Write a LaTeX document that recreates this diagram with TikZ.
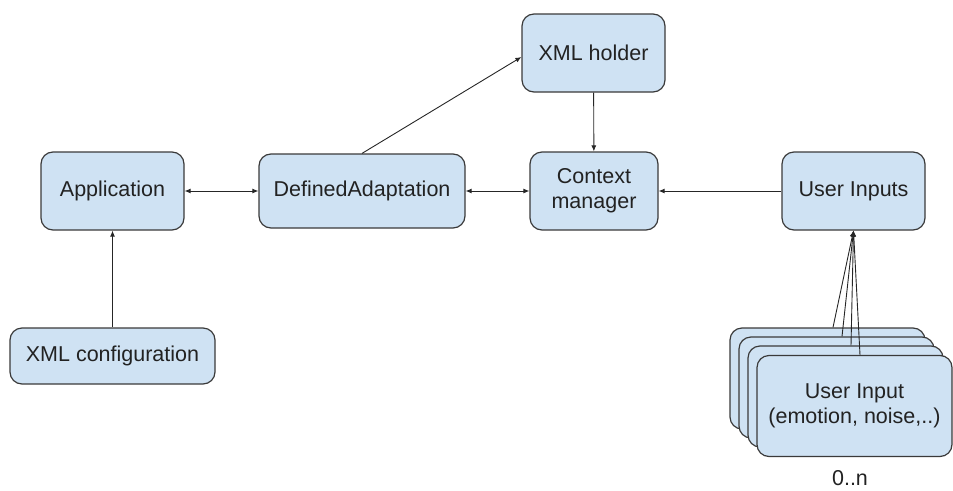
\documentclass[tikz,border=0pt]{standalone}
\usepackage{fontspec}
\setmainfont{Liberation Sans}
\usetikzlibrary{arrows.meta,calc}
\definecolor{boxfill}{HTML}{CFE2F3}
\definecolor{boxline}{HTML}{3A3A3A}
\definecolor{ink}{HTML}{222222}
\tikzset{
  blockbox/.style={draw=boxline, fill=boxfill, line width=1.2pt, rounded corners=12pt,
    align=center, text=ink, font=\fontsize{21.5}{25}\selectfont, inner sep=0pt},
  link/.style={draw=black!85, line width=0.9pt, -{Latex[length=6pt,width=5pt]}},
  biLink/.style={draw=black!85, line width=0.9pt, {Latex[length=6pt,width=5pt]}-{Latex[length=6pt,width=5pt]}},
}
\begin{document}
\begin{tikzpicture}[x=1pt,y=-1pt]
  \useasboundingbox (0,0) rectangle (953,490);

  % main blocks
  \node[blockbox, minimum width=143pt, minimum height=78pt] (app) at (112.5,191) {Application};
  \node[blockbox, minimum width=206pt, minimum height=74pt] (def) at (362,191) {DefinedAdaptation};
  \node[blockbox, minimum width=143pt, minimum height=78pt] (xmlh) at (593.5,53) {XML holder};
  \node[blockbox, minimum width=128pt, minimum height=78pt] (ctx) at (594,191) {Context\\manager};
  \node[blockbox, minimum width=143pt, minimum height=78pt] (ui) at (853.5,191) {User Inputs};
  \node[blockbox, minimum width=205pt, minimum height=56pt] (cfg) at (112.5,356) {XML configuration};

  % stack of user input sources, back to front
  \node[blockbox, minimum width=195pt, minimum height=101pt] (s1) at (827.5,378.5) {};
  \node[blockbox, minimum width=195pt, minimum height=101pt] (s2) at (836.5,387.5) {};
  \node[blockbox, minimum width=195pt, minimum height=101pt] (s3) at (845.5,396.5) {};
  \node[blockbox, minimum width=195pt, minimum height=101pt] (s4) at (854.5,406) {User Input\\(emotion, noise,..)};
  \node[text=ink, font=\fontsize{21.5}{25}\selectfont, inner sep=0pt, anchor=base] (card) at (850,485) {0..n};

  % connectors
  \draw[biLink] (app) -- (def);
  \draw[biLink] (def) -- (ctx);
  \draw[link] (ui) -- (ctx);
  \draw[link] (xmlh) -- (ctx);
  \draw[link] (cfg) -- (app);
  \draw[link] (def.north) -- ($(xmlh.west)+(0,4)$);
  \foreach \s in {s1,s2,s3,s4}
    \draw[link] ([xshift=5.5pt]\s.north) -- (ui.south);
\end{tikzpicture}
\end{document}
